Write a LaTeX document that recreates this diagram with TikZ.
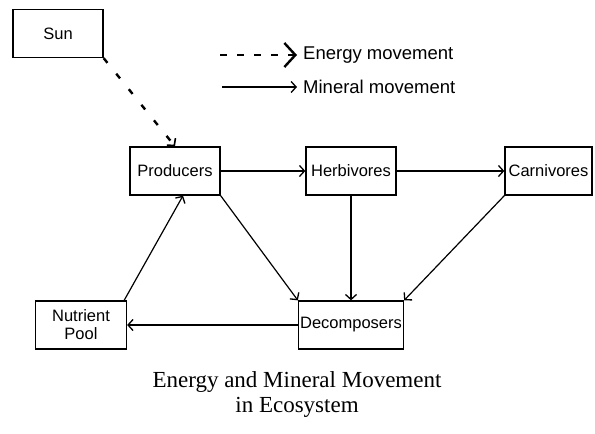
\documentclass[tikz,border=0pt]{standalone}
\usepackage{fontspec}
\setmainfont{Liberation Serif}
\setsansfont{Liberation Sans}
\usetikzlibrary{arrows.meta}

\begin{document}
\begin{tikzpicture}[x=1pt,y=-1pt,
  box/.style={draw,line width=1.3pt,minimum height=48pt,inner sep=1pt,align=center,font=\sffamily\fontsize{16.5}{18}\selectfont},
  key/.style={anchor=west,inner sep=6pt,font=\sffamily\fontsize{18.5}{20}\selectfont},
  flow/.style={line width=1.2pt,-{Straight Barb[length=5pt,width=11pt,line width=1.3pt]}},
  energy/.style={line width=2.4pt,dash pattern=on 6pt off 14pt,-{Straight Barb[length=5pt,width=11pt,line width=1.6pt]}}]
\useasboundingbox (0,0) rectangle (595,434);

\node[box,minimum width=90pt] (sun) at (58,33.5) {Sun};
\node[box,minimum width=90pt] (prod) at (175,171) {Producers};
\node[box,minimum width=90pt] (herb) at (351,171) {Herbivores};
\node[box,minimum width=87pt] (carn) at (548.5,171) {Carnivores};
\node[box,minimum width=91pt] (pool) at (81,325) {Nutrient\\Pool};
\node[box,minimum width=105pt] (decomp) at (351,325) {Decomposers};

% key
\coordinate (ekey) at (220,55);
\coordinate (mkey) at (222,87);
\node[key] (elab) at (297,55) {Energy movement};
\node[key] (mlab) at (297,87) {Mineral movement};
\draw[line width=2.4pt,dash pattern=on 7pt off 10pt,-{Straight Barb[length=11pt,width=24pt,line width=2.4pt]}] (ekey) -- (elab);
\draw[flow] (mkey) -- (mlab);

\draw[energy] (sun.south east) -- (prod.north);
\draw[flow] (prod) -- (herb);
\draw[flow] (herb) -- (carn);
\draw[flow] (prod.south east) -- (decomp.north west);
\draw[flow] (herb) -- (decomp);
\draw[flow] (carn.south west) -- (decomp.north east);
\draw[flow] (decomp) -- (pool);
\draw[flow] ([xshift=-3pt]pool.north east) -- ([xshift=8pt]prod.south);

\node[align=center,font=\fontsize{23}{25}\selectfont] (title) at (297,394) {Energy and Mineral Movement\\in Ecosystem};
\end{tikzpicture}
\end{document}
